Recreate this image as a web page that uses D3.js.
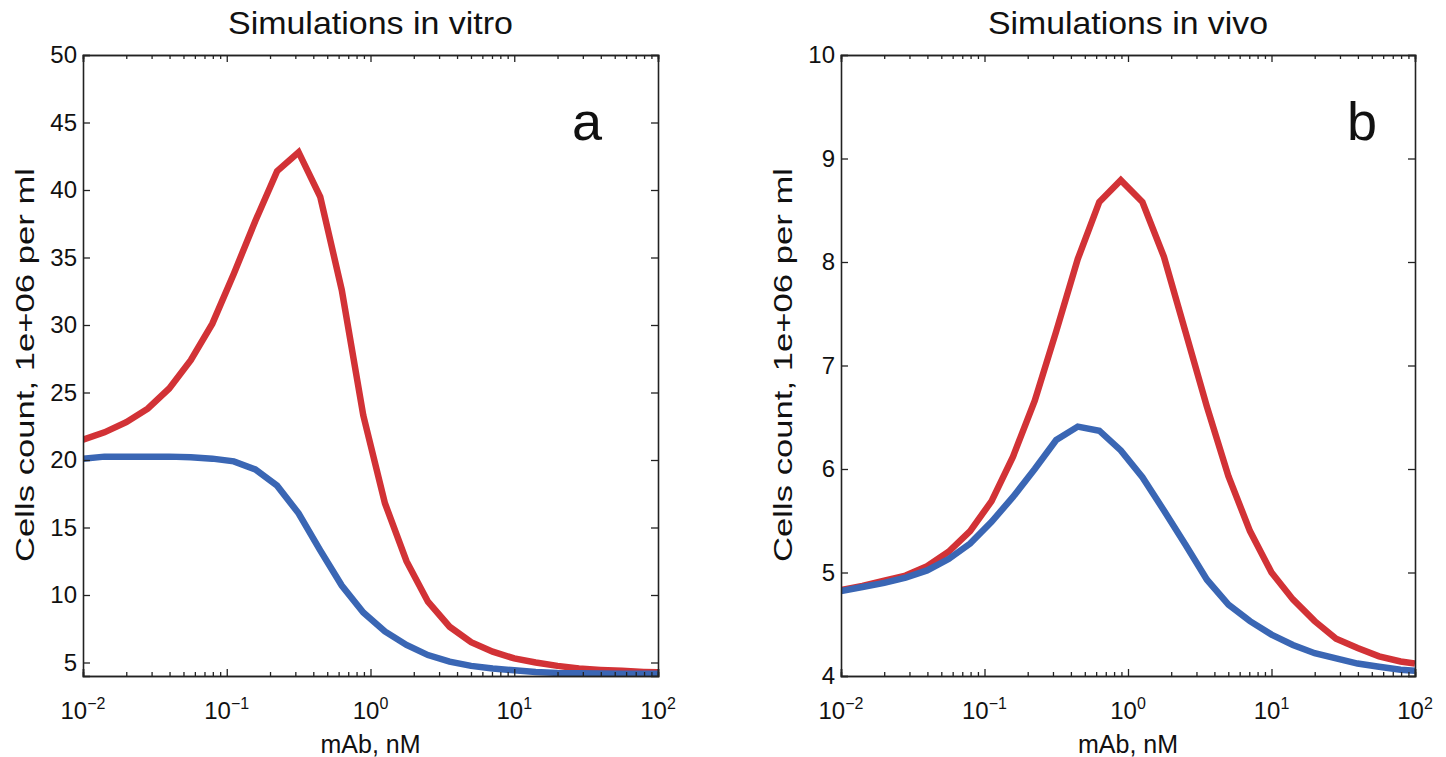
<!DOCTYPE html>
<html>
<head>
<meta charset="utf-8">
<script src="https://cdn.jsdelivr.net/npm/d3@7"></script>
<style>
	body { margin: 0; background: #fff; }
	text { font-family: "Liberation Sans", Arial, Helvetica, sans-serif; fill: #111; }
</style>
</head>
<body>
<svg id="chart" width="1446" height="757"></svg>
<script>
// mAb concentration, nM (same sampling for every curve)
var mAb = [0.01, 0.0141, 0.02, 0.0282, 0.0398, 0.0562, 0.0794, 0.112, 0.158, 0.224, 0.316, 0.447, 0.631, 0.891,
	1.26, 1.78, 2.51, 3.55, 5.01, 7.08, 10, 14.1, 20, 28.2, 39.8, 56.2, 79.4, 100];

// cells count, 1e+06 per ml
var vitroRed = [21.5, 22.05, 22.8, 23.8, 25.3, 27.4, 30.1, 33.8, 37.7, 41.4, 42.8, 39.5, 32.6, 23.3,
	16.8, 12.5, 9.5, 7.65, 6.5, 5.8, 5.3, 5.0, 4.75, 4.55, 4.45, 4.38, 4.3, 4.27];
var vitroBlue = [20.1, 20.25, 20.25, 20.25, 20.25, 20.2, 20.1, 19.9, 19.3, 18.1, 16.05, 13.3, 10.7, 8.7,
	7.3, 6.3, 5.55, 5.06, 4.75, 4.55, 4.42, 4.3, 4.23, 4.2, 4.18, 4.17, 4.17, 4.16];
var vivoRed = [4.83, 4.87, 4.92, 4.97, 5.06, 5.2, 5.4, 5.69, 6.12, 6.66, 7.33, 8.03, 8.58, 8.79,
	8.58, 8.05, 7.33, 6.6, 5.93, 5.4, 5.0, 4.74, 4.53, 4.36, 4.27, 4.19, 4.14, 4.12];
var vivoBlue = [4.82, 4.86, 4.9, 4.95, 5.02, 5.13, 5.28, 5.49, 5.73, 6.0, 6.28, 6.41, 6.37, 6.18,
	5.92, 5.6, 5.27, 4.93, 4.69, 4.53, 4.4, 4.3, 4.22, 4.17, 4.12, 4.09, 4.06, 4.05];

// axes
var xTicks = [0.01, 0.1, 1, 10, 100];
var xTickExp = ["\u22122", "\u22121", "0", "1", "2"];
var vitroYTicks = [5, 10, 15, 20, 25, 30, 35, 40, 45, 50];
var vivoYTicks = [4, 5, 6, 7, 8, 9, 10];

var RED = "#d23236", BLUE = "#3a66b4";

var svg = d3.select("#chart");

function drawPanel(opt) {
	var x = d3.scaleLog().domain([0.01, 100]).range([opt.left, opt.right]);
	var y = d3.scaleLinear().domain(opt.yDomain).range([676, 55]);
	var g = svg.append("g");

	g.append("clipPath")
		.attr("id", opt.id + "-clip")
		.append("rect")
		.attr("x", opt.left).attr("y", 55)
		.attr("width", opt.right - opt.left).attr("height", 621);

	var line = d3.line()
		.x(function(d) { return x(d[0]); })
		.y(function(d) { return y(d[1]); });

	// red first, blue on top
	[[opt.red, RED], [opt.blue, BLUE]].forEach(function(s) {
		g.append("path")
			.datum(mAb.map(function(v, i) { return [v, s[0][i]]; }))
			.attr("clip-path", "url(#" + opt.id + "-clip)")
			.attr("fill", "none")
			.attr("stroke", s[1])
			.attr("stroke-width", 6.5)
			.attr("d", line);
	});

	// minor log ticks
	var minor = [];
	[0.01, 0.1, 1, 10].forEach(function(dec) {
		for (var k = 2; k <= 9; k++) minor.push(dec * k);
	});

	g.append("g").attr("transform", "translate(0,676)")
		.call(d3.axisBottom(x).tickValues(xTicks).tickSize(-7).tickFormat(""));
	g.append("g").attr("transform", "translate(0,676)")
		.call(d3.axisBottom(x).tickValues(minor).tickSize(-4).tickFormat(""));
	g.append("g").attr("transform", "translate(0,55)")
		.call(d3.axisTop(x).tickValues(xTicks).tickSize(-7).tickFormat(""));
	g.append("g").attr("transform", "translate(0,55)")
		.call(d3.axisTop(x).tickValues(minor).tickSize(-4).tickFormat(""));
	g.append("g").attr("transform", "translate(" + opt.left + ",0)")
		.call(d3.axisLeft(y).tickValues(opt.yTicks).tickSize(-7).tickPadding(6).tickFormat(d3.format("d")));
	g.append("g").attr("transform", "translate(" + opt.right + ",0)")
		.call(d3.axisRight(y).tickValues(opt.yTicks).tickSize(-7).tickFormat(""));

	g.selectAll(".domain").attr("stroke", "#222").attr("stroke-width", 1.6);
	g.selectAll(".tick line").attr("stroke", "#222").attr("stroke-width", 1.3);
	g.selectAll(".tick text").attr("font-family", null).attr("font-size", 24).attr("fill", "#111");

	// 10^n labels
	xTicks.forEach(function(v, i) {
		var t = g.append("text")
			.attr("x", x(v)).attr("y", 719)
			.attr("text-anchor", "middle")
			.attr("font-size", 24);
		t.append("tspan").text("10");
		t.append("tspan").attr("dy", -10).attr("font-size", 16).text(xTickExp[i]);
	});

	var cx = (opt.left + opt.right) / 2;
	g.append("text")
		.attr("x", cx).attr("y", 34)
		.attr("text-anchor", "middle")
		.attr("font-size", 32)
		.attr("textLength", opt.titleLen)
		.attr("lengthAdjust", "spacingAndGlyphs")
		.text(opt.title);

	g.append("text")
		.attr("x", cx).attr("y", 753)
		.attr("text-anchor", "middle")
		.attr("font-size", 25)
		.text("mAb, nM");

	g.append("text")
		.attr("transform", "translate(" + opt.yLabelX + ",365) rotate(-90)")
		.attr("text-anchor", "middle")
		.attr("font-size", 26)
		.attr("textLength", 394)
		.attr("lengthAdjust", "spacingAndGlyphs")
		.text("Cells count, 1e+06 per ml");

	g.append("text")
		.attr("x", opt.letterX).attr("y", 140)
		.attr("text-anchor", "middle")
		.attr("font-size", 54)
		.text(opt.letter);
}

drawPanel({id: "vitro", left: 83, right: 658, yDomain: [4, 50], yTicks: vitroYTicks, titleLen: 285,
	red: vitroRed, blue: vitroBlue, title: "Simulations in vitro", letter: "a", letterX: 587, yLabelX: 34});
drawPanel({id: "vivo", left: 841, right: 1415, yDomain: [4, 10], yTicks: vivoYTicks, titleLen: 280,
	red: vivoRed, blue: vivoBlue, title: "Simulations in vivo", letter: "b", letterX: 1362, yLabelX: 792});
</script>
</body>
</html>
